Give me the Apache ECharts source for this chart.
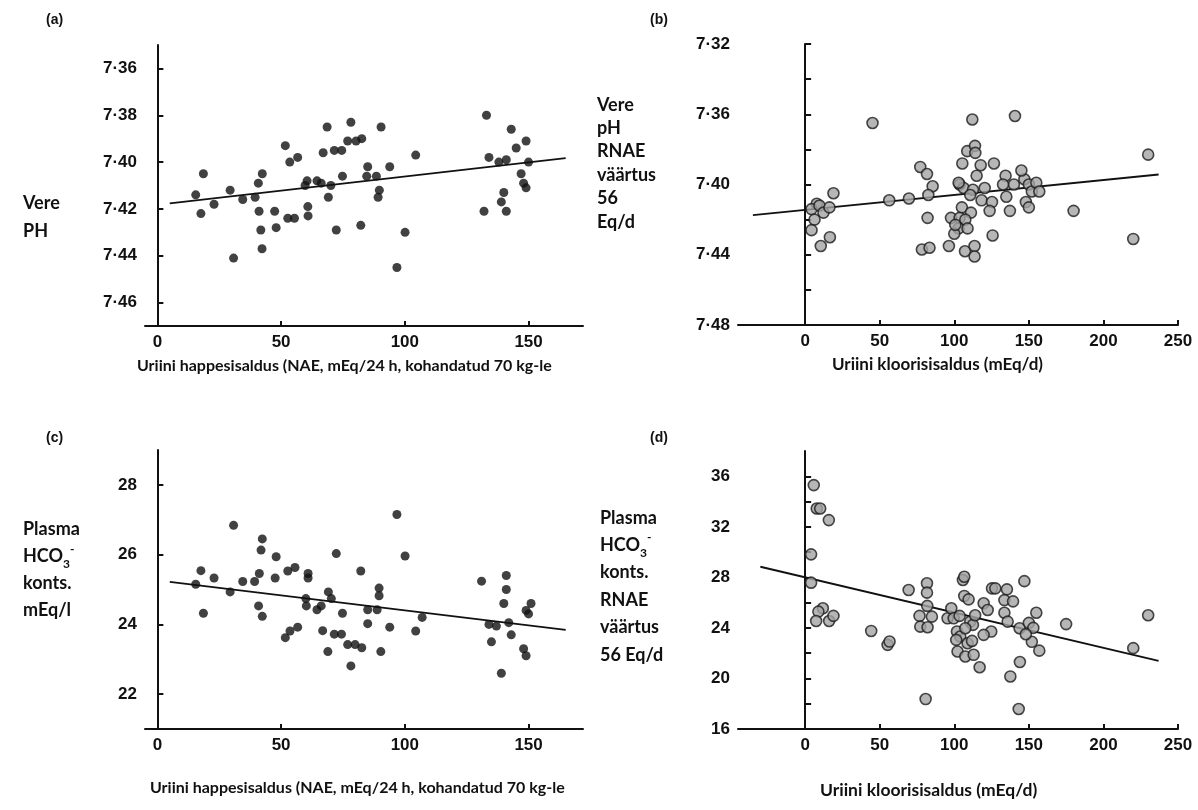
<!DOCTYPE html>
<html>
<head>
<meta charset="utf-8">
<script src="https://cdn.jsdelivr.net/npm/echarts@6/dist/echarts.min.js"></script>
<style>
  html, body { margin: 0; padding: 0; background: #fff; }
  #chart { width: 1198px; height: 810px; }
</style>
</head>
<body>
<div id="chart"></div>
<script>
// (a) urine NAE vs blood pH
const naeA = [15.5, 18.6, 17.6, 22.9, 29.4, 30.8, 34.5, 39.5, 40.8, 42.4, 41.1, 41.8, 42.3, 47.4, 48.0,
  51.7, 53.5, 56.7, 52.7, 55.4, 60.5, 59.7, 60.8, 60.9, 64.5, 66.2, 67.0, 68.6, 70.1, 69.1, 72.3, 71.5,
  74.5, 74.8, 76.9, 78.2, 80.3, 82.6, 82.2, 85.0, 84.6, 88.5, 89.7, 89.2, 90.4, 93.9, 96.8, 100.1, 104.4,
  132, 134, 133, 138, 141, 143, 145, 140, 139, 141, 147, 148, 149, 150, 149];
const phA = [7.414, 7.405, 7.422, 7.418, 7.412, 7.441, 7.416, 7.415, 7.409, 7.405, 7.421, 7.429, 7.437, 7.421, 7.428,
  7.393, 7.400, 7.398, 7.424, 7.424, 7.408, 7.410, 7.419, 7.423, 7.408, 7.409, 7.396, 7.385, 7.410, 7.415, 7.429, 7.395,
  7.395, 7.406, 7.391, 7.383, 7.391, 7.390, 7.427, 7.402, 7.406, 7.406, 7.412, 7.415, 7.385, 7.402, 7.445, 7.430, 7.397,
  7.421, 7.398, 7.380, 7.400, 7.399, 7.386, 7.394, 7.413, 7.417, 7.421, 7.405, 7.409, 7.411, 7.400, 7.391];
const fitAX = [5, 165];
const fitAY = [7.4176, 7.3983];

// (b) urine chloride vs blood pH
const clB = [45.2, 19.0, 7.8, 4.3, 9.6, 12.3, 16.3, 6.3, 4.3, 16.6, 10.5, 56.4, 69.6, 77.2, 81.7, 85.5, 82.6, 82.1,
  78.3, 83.4, 96.4, 105.4, 108.7, 112.1, 113.9, 114.1, 117.7, 115.0, 126.6, 103.6, 106.3, 112.5, 110.7, 120.4,
  118.3, 125.3, 123.7, 105.1, 111.2, 97.8, 103.6, 107.4, 102.9, 100.0, 108.9, 125.7, 107.2, 113.6, 113.6, 140.7,
  134.4, 140.0, 132.7, 134.9, 137.3, 102.9, 147, 150, 152, 148, 150, 155, 157, 180, 220, 230, 145, 100.7];
const phB = [7.365, 7.405, 7.411, 7.414, 7.412, 7.416, 7.413, 7.420, 7.426, 7.430, 7.435, 7.409, 7.408, 7.390, 7.394, 7.401, 7.406, 7.419,
  7.437, 7.436, 7.435, 7.388, 7.381, 7.363, 7.378, 7.382, 7.389, 7.395, 7.388, 7.400, 7.402, 7.403, 7.406, 7.402,
  7.409, 7.410, 7.415, 7.413, 7.416, 7.419, 7.419, 7.420, 7.425, 7.428, 7.425, 7.429, 7.438, 7.435, 7.441, 7.361,
  7.395, 7.400, 7.400, 7.407, 7.415, 7.399, 7.397, 7.400, 7.404, 7.410, 7.413, 7.399, 7.404, 7.415, 7.431, 7.383, 7.392, 7.423];
const fitBX = [-35, 237];
const fitBY = [7.4174, 7.3943];

// (c) urine NAE vs plasma HCO3
const naeC = [15.5, 17.6, 18.6, 22.9, 29.4, 30.8, 34.5, 39.3, 41.2, 41.9, 42.4, 40.9, 42.4, 48.0, 47.6, 51.7,
  53.6, 56.7, 52.7, 55.6, 60.9, 60.9, 60.0, 60.2, 64.5, 66.2, 66.8, 68.9, 69.1, 70.3, 72.3, 71.5, 74.4, 74.8,
  76.9, 78.2, 79.9, 82.6, 82.2, 85.0, 85.0, 88.8, 89.6, 89.6, 90.3, 93.9, 96.8, 100.1, 104.4,
  131, 134, 137, 140, 142, 135, 143, 139, 141, 141, 149, 150, 148, 149, 151, 107];
const hco3C = [25.15, 25.54, 24.32, 25.33, 24.93, 26.84, 25.23, 25.23, 25.46, 26.13, 26.45, 24.53, 24.23, 25.94, 25.33, 23.62,
  23.81, 23.92, 25.53, 25.63, 25.46, 25.33, 24.74, 24.53, 24.42, 24.53, 23.82, 23.22, 24.93, 24.74, 26.03, 23.72, 23.72, 24.32,
  23.42, 22.81, 23.42, 23.33, 25.53, 24.42, 24.02, 24.42, 25.04, 24.82, 23.22, 23.92, 27.15, 25.96, 23.81,
  25.24, 24.0, 23.95, 24.6, 24.05, 23.5, 23.7, 22.6, 25.4, 25.0, 24.4, 24.3, 23.3, 23.1, 24.6, 24.2];
const fitCX = [5, 165];
const fitCY = [25.22, 23.84];

// (d) urine chloride vs plasma HCO3
const clD = [5.8, 7.8, 10.1, 15.9, 4.0, 4.0, 11.9, 8.9, 7.4, 16.1, 19.0, 44.3, 55.3, 56.6, 69.4, 81.7, 81.7, 81.9,
  76.7, 85.0, 77.2, 82.1, 80.8, 95.5, 98.0, 105.8, 106.7, 106.7, 109.6, 99.6, 103.6, 101.8, 104.0, 101.3, 102.2,
  107.4, 108.9, 111.9, 113.0, 110.7, 112.5, 114.0, 117.0, 119.7, 122.4, 125.3, 127.5, 124.8, 119.7, 107.4, 135.3,
  133.6, 139.4, 133.6, 135.8, 137.6, 143.2, 143.8, 144.0, 147, 150, 153, 155, 152, 157, 175, 220, 230, 148];
const hco3D = [35.3, 33.45, 33.45, 32.53, 29.82, 27.58, 25.55, 25.29, 24.55, 24.55, 24.95, 23.76, 22.66, 22.92, 27.0, 27.53, 26.79, 25.74,
  24.95, 24.89, 24.1, 24.05, 18.37, 24.76, 25.55, 27.79, 28.05, 26.53, 26.26, 24.76, 24.95, 23.71, 23.32, 23.05, 22.13,
  21.74, 22.79, 22.97, 21.87, 24.5, 24.24, 25.0, 20.89, 25.95, 25.42, 27.13, 27.13, 23.71, 23.45, 23.97, 27.05,
  26.2, 26.1, 25.2, 24.5, 20.16, 17.58, 23.97, 21.3, 27.7, 24.4, 24.0, 25.2, 22.9, 22.2, 24.3, 22.4, 25.0, 23.5];
const fitDX = [-30, 237];
const fitDY = [28.84, 21.4];

const naeTicks = [0, 50, 100, 150];
const clTicks = [0, 50, 100, 150, 200, 250];
const phTicksA = [7.36, 7.38, 7.40, 7.42, 7.44, 7.46];
const phLabelsB = [7.32, 7.36, 7.40, 7.44, 7.48];
const phTicksB = [7.32, 7.34, 7.36, 7.38, 7.40, 7.42, 7.44, 7.46, 7.48];
const hco3TicksC = [22, 24, 26, 28];
const hco3LabelsD = [16, 20, 24, 28, 32, 36];
const hco3TicksD = [16, 18, 20, 22, 24, 26, 28, 30, 32, 34, 36];

const zip = (xs, ys) => xs.map((x, i) => [x, ys[i]]);
const dot = v => v.toFixed(2).replace('.', '\u00b7');

const axisBase = {
  axisLine: { lineStyle: { color: '#111', width: 2 } },
  splitLine: { show: false },
  axisLabel: { color: '#111', fontFamily: 'Liberation Sans', fontWeight: 'bold', fontSize: 17 }
};

function xAxis(idx, min, max, ticks) {
  return Object.assign({}, axisBase, {
    gridIndex: idx, type: 'value', min: min, max: max,
    axisTick: { inside: true, length: 5, customValues: ticks, lineStyle: { color: '#111', width: 2 } },
    axisLabel: Object.assign({}, axisBase.axisLabel, { customValues: ticks, margin: 8 })
  });
}
function yAxis(idx, min, max, ticks, labels, fmt, inverse) {
  return Object.assign({}, axisBase, {
    gridIndex: idx, type: 'value', min: min, max: max, inverse: inverse,
    axisTick: { inside: true, length: 6, customValues: ticks, lineStyle: { color: '#111', width: 2 } },
    axisLabel: Object.assign({}, axisBase.axisLabel, { customValues: labels, margin: 8, formatter: fmt })
  });
}

const blackDot = { color: '#111' };
const greyDot = { color: '#a4a4a4', borderColor: '#1c1c1c', borderWidth: 1.6 };

function scatter(i, data, size, style) {
  return { type: 'scatter', xAxisIndex: i, yAxisIndex: i, data: data, symbolSize: size, itemStyle: style, silent: true };
}
function fitLine(i, data) {
  return { type: 'line', xAxisIndex: i, yAxisIndex: i, data: data, symbol: 'none',
    lineStyle: { color: '#111', width: 1.8 }, silent: true, z: 1 };
}

const labelFont = { fontFamily: 'Lato', fontWeight: 'bold', fill: '#111' };
function txt(left, top, text, size, lh, extra) {
  return { type: 'text', left: left, top: top,
    style: Object.assign({ text: text, fontSize: size, lineHeight: lh }, labelFont, extra || {}) };
}
const hcoRich = {
  sub: { fontSize: 12, fontFamily: 'Lato', fontWeight: 'bold', verticalAlign: 'bottom', padding: [8, 0, 0, 0] },
  sup: { fontSize: 12, fontFamily: 'Lato', fontWeight: 'bold', verticalAlign: 'top', padding: [0, 0, 8, 0] }
};

const chart = echarts.init(document.getElementById('chart'), null, { renderer: 'canvas' });
chart.setOption({
  backgroundColor: '#fff',
  animation: false,
  grid: [
    { left: 145, top: 45, width: 438, height: 281 },
    { left: 738, top: 44, width: 440, height: 281 },
    { left: 145, top: 450, width: 438, height: 279 },
    { left: 738, top: 451, width: 440, height: 278 }
  ],
  xAxis: [
    xAxis(0, -5, 172, naeTicks),
    xAxis(1, -45, 250, clTicks),
    xAxis(2, -5, 172, naeTicks),
    xAxis(3, -45, 250, clTicks)
  ],
  yAxis: [
    yAxis(0, 7.35, 7.47, phTicksA, phTicksA, dot, true),
    yAxis(1, 7.32, 7.48, phTicksB, phLabelsB, dot, true),
    yAxis(2, 21, 29, hco3TicksC, hco3TicksC, null, false),
    yAxis(3, 16, 38, hco3TicksD, hco3LabelsD, null, false)
  ],
  series: [
    fitLine(0, zip(fitAX, fitAY)),
    scatter(0, zip(naeA, phA), 9, blackDot),
    fitLine(1, zip(fitBX, fitBY)),
    scatter(1, zip(clB, phB), 11, greyDot),
    fitLine(2, zip(fitCX, fitCY)),
    scatter(2, zip(naeC, hco3C), 9, blackDot),
    fitLine(3, zip(fitDX, fitDY)),
    scatter(3, zip(clD, hco3D), 11, greyDot)
  ],
  graphic: [
    txt(46, 12, '(a)', 14, 16, { fontFamily: 'Liberation Sans' }),
    txt(650, 12, '(b)', 14, 16, { fontFamily: 'Liberation Sans' }),
    txt(46, 430, '(c)', 14, 16, { fontFamily: 'Liberation Sans' }),
    txt(650, 430, '(d)', 14, 16, { fontFamily: 'Liberation Sans' }),
    txt(23, 189, 'Vere\nPH', 18, 28),
    txt(597, 93, 'Vere\npH\nRNAE\nväärtus\n56\nEq/d', 18, 23.4),
    txt(23, 516, 'Plasma\n{n|HCO}{sub|3}{sup|-}\nkonts.\nmEq/l', 18, 27,
      { rich: Object.assign({ n: { fontSize: 18, fontFamily: 'Lato', fontWeight: 'bold' } }, hcoRich) }),
    txt(600, 504, 'Plasma\n{n|HCO}{sub|3}{sup|-}\nkonts.\nRNAE\nväärtus\n56 Eq/d', 18, 27.4,
      { rich: Object.assign({ n: { fontSize: 18, fontFamily: 'Lato', fontWeight: 'bold' } }, hcoRich) }),
    txt(137, 356, 'Uriini happesisaldus (NAE, mEq/24 h, kohandatud 70 kg-le', 16, 20),
    txt(832, 355, 'Uriini kloorisisaldus (mEq/d)', 17, 20),
    txt(150, 778, 'Uriini happesisaldus (NAE, mEq/24 h, kohandatud 70 kg-le', 16, 20),
    txt(820, 779, 'Uriini kloorisisaldus (mEq/d)', 17.5, 22)
  ]
});
</script>
</body>
</html>
